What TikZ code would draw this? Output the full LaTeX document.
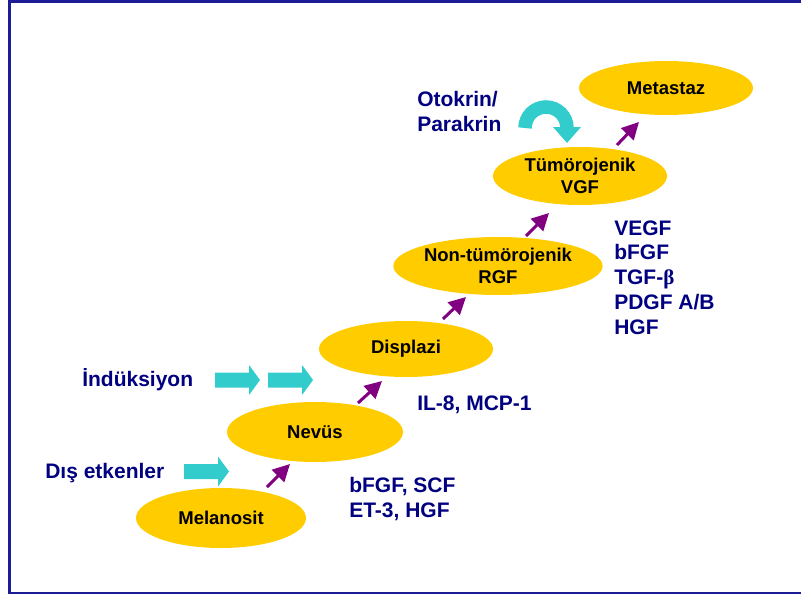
\documentclass[tikz,border=0pt]{standalone}
\usepackage{fontspec}
\setmainfont{Liberation Sans}
\usetikzlibrary{arrows.meta,shapes.geometric}
\definecolor{framblue}{RGB}{28,28,150}
\definecolor{labblue}{RGB}{0,0,128}
\definecolor{gold}{RGB}{255,204,0}
\definecolor{plum}{RGB}{128,0,128}
\definecolor{aqua}{RGB}{51,204,204}
% block arrow: left end x, centre y
\newcommand\pusharrow[2]{\fill[aqua] (#1,#2) ++(0,-7.5) -- ++(34,0) -- ++(0,-7.5)
  -- ++(11,15) -- ++(-11,15) -- ++(0,-7.5) -- ++(-34,0) -- cycle;}

\begin{document}
\begin{tikzpicture}[x=1pt,y=-1pt,semithick,
  stage/.style={ellipse,fill=gold,minimum width=174pt,minimum height=58pt,inner sep=0pt,
    align=center,font=\fontsize{18.5}{22.5}\selectfont\bfseries},
  lab/.style={anchor=base west,inner sep=0pt,align=left,text=labblue,
    font=\fontsize{21}{24.7}\selectfont\bfseries},
  stepup/.style={plum,line width=3pt,-{Triangle[length=17pt,width=17pt]}}]
\clip (0,0) rectangle (801,597);
\draw[framblue,line width=2.5pt] (9.7,1.3) rectangle (830,593);

% stages
\node[stage,minimum width=170pt,minimum height=60pt] (mel) at (221,518) {Melanosit};
\node[stage,minimum width=176pt,minimum height=60pt] (nev) at (315,432) {Nevüs};
\node[stage,minimum height=56pt] (dis) at (406,349) {Displazi};
\node[stage] (non) at (498,266) {Non-tümörojenik\\RGF};
\node[stage] (tum) at (580,176) {Tümörojenik\\VGF};
\node[stage,minimum height=54pt] (met) at (666,88) {Metastaz};

\draw[stepup] ([shift={(46,-31)}]mel.center) -- ([shift={(-25,32)}]nev.center);
\draw[stepup] ([shift={(43,-29)}]nev.center) -- ([shift={(-24,32)}]dis.center);
\draw[stepup] ([shift={(37,-30)}]dis.center) -- ([shift={(-32,31)}]non.center);
\draw[stepup] ([shift={(28,-30)}]non.center) -- ([shift={(-31,37)}]tum.center);
\draw[stepup] ([shift={(37,-31)}]tum.center) -- ([shift={(-27,34)}]met.center);

% factors (base = last line)
\node[lab] (otk) at (417,131) {Otokrin/\\Parakrin};
\node[lab] (ind) at (82,386) {İndüksiyon};
\node[lab] (dis-et) at (45,478) {Dış etkenler};
\node[lab] (il8) at (417,410) {IL-8, MCP-1};
\node[lab] (fgf) at (349,517) {bFGF, SCF\\ET-3, HGF};
\node[lab] (vgf) at (614,334) {VEGF\\bFGF\\TGF-{\fontspec{Liberation Serif}β}\\PDGF A/B\\HGF};

\pusharrow{184}{471.5}
\pusharrow{215}{380}
\pusharrow{268}{380}
\draw[aqua,line width=13.5pt,-{Triangle[length=16pt,width=27pt]}]
  (525,128) arc[start angle=180,end angle=360,radius=21] -- ++(0,15);
\end{tikzpicture}
\end{document}
